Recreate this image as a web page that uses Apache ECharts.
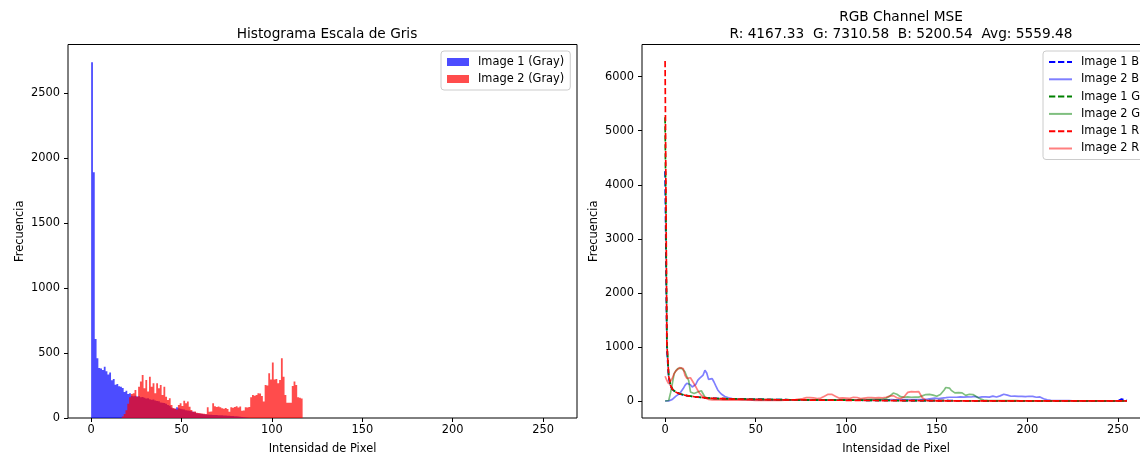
<!DOCTYPE html>
<html>
<head>
<meta charset="utf-8">
<script src="https://cdn.jsdelivr.net/npm/echarts@6/dist/echarts.min.js"></script>
<style>html,body{margin:0;padding:0;background:#fff}#c{width:1140px;height:456px}</style>
</head>
<body>
<div id="c"></div>
<script>
// ---- Left: grayscale histograms (256 bins, width 1) ----
const gray1 = [
2735,1890,608,460,385,380,370,395,360,335,350,290,300,255,262,245,
240,230,200,210,185,190,172,168,172,165,168,160,162,155,150,152,
145,140,142,135,130,128,120,118,115,110,100,95,80,72,70,82,
75,72,68,65,60,58,55,52,48,45,36,34,32,30,28,27,
26,25,25,24,24,23,22,22,21,20,19,18,17,16,15,14,
13,12,10,8,6,4,2,0,0,0,0,0,0,0,0,0,
0,0,0,0,0,0,0,0,0,0,0,0,0,0,0,0,
0,0,0,0,0,0,0,0,0,0,0,0,0,0,0,0,
0,0,0,0,0,0,0,0,0,0,0,0,0,0,0,0,
0,0,0,0,0,0,0,0,0,0,0,0,0,0,0,0,
0,0,0,0,0,0,0,0,0,0,0,0,0,0,0,0,
0,0,0,0,0,0,0,0,0,0,0,0,0,0,0,0,
0,0,0,0,0,0,0,0,0,0,0,0,0,0,0,0,
0,0,0,0,0,0,0,0,0,0,0,0,0,0,0,0,
0,0,0,0,0,0,0,0,0,0,0,0,0,0,0,0,
0,0,0,0,0,0,0,0,0,0,0,0,0,0,0,0];
const gray2 = [
0,0,0,0,0,0,0,0,0,0,0,0,0,0,0,0,
0,12,30,60,110,160,185,190,215,164,241,280,331,228,292,203,
318,241,267,190,267,228,254,177,241,164,138,151,100,76,74,66,
100,113,92,133,113,126,87,62,49,50,40,38,36,34,33,31,
82,48,50,113,90,85,88,82,75,72,76,70,49,82,78,85,
90,80,88,56,58,82,80,84,159,177,172,177,190,188,169,126,
254,250,344,297,426,297,300,267,292,459,318,177,118,118,118,246,
280,254,159,155,150,0,0,0,0,0,0,0,0,0,0,0,
0,0,0,0,0,0,0,0,0,0,0,0,0,0,0,0,
0,0,0,0,0,0,0,0,0,0,0,0,0,0,0,0,
0,0,0,0,0,0,0,0,0,0,0,0,0,0,0,0,
0,0,0,0,0,0,0,0,0,0,0,0,0,0,0,0,
0,0,0,0,0,0,0,0,0,0,0,0,0,0,0,0,
0,0,0,0,0,0,0,0,0,0,0,0,0,0,0,0,
0,0,0,0,0,0,0,0,0,0,0,0,0,0,0,0,
0,0,0,0,0,0,0,0,0,0,0,0,0,0,0,0];

// ---- Right: per-channel histograms (lines) ----
const img1B = [
4250,950,430,280,215,180,160,145,132,122,113,106,99,93,88,83,
79,75,71,68,65,62,59,57,55,53,51,49,48,46,45,44,
43,42,41,40,39,38,37,37,36,35,35,34,34,33,33,32,
32,31,31,30,30,30,29,29,28,28,28,27,27,27,26,26,
26,25,25,25,24,24,24,23,23,23,22,22,22,22,21,21,
21,20,20,20,20,19,19,19,19,18,18,18,18,17,17,17,
17,16,16,16,16,15,15,15,15,15,14,14,14,14,13,13,
13,13,13,12,12,12,12,12,11,11,11,11,11,10,10,10,
10,10,10,9,9,9,9,9,9,8,8,8,8,8,8,8,
7,7,7,7,7,7,7,6,6,6,6,6,6,6,6,5,
5,5,5,5,5,5,5,5,5,4,4,4,4,4,4,4,
4,4,4,4,4,3,3,3,3,3,3,3,3,3,3,3,
3,3,3,3,2,2,2,2,2,2,2,2,2,2,2,2,
2,2,2,2,2,2,2,2,1,1,1,1,1,1,1,1,
1,1,1,1,1,1,1,1,1,1,1,1,1,1,1,1,
1,1,1,1,1,1,1,1,1,1,2,15,35,38,20,8];
const img2B = [
0,0,2,10,30,60,90,110,136,170,230,290,330,352,300,260,
265,310,383,420,445,480,570,520,400,390,414,352,280,210,167,130,
105,85,74,60,50,43,40,38,36,35,33,32,30,30,29,28,
28,27,26,26,25,25,24,24,23,23,22,22,22,21,21,20,
20,21,22,20,19,21,22,20,19,20,21,19,18,20,21,19,
18,20,21,19,18,19,20,18,17,19,20,18,17,18,19,17,
18,19,17,16,18,19,17,16,18,17,16,18,19,17,16,18,
19,17,18,20,22,21,19,20,22,24,23,21,22,25,27,24,
22,24,26,25,23,25,28,26,24,26,28,27,25,27,30,28,
30,35,40,45,50,55,50,45,50,55,60,62,65,70,75,70,
62,70,80,75,68,72,85,78,70,74,80,86,75,65,70,78,
82,75,70,72,85,90,80,75,88,95,110,125,136,110,95,88,
80,90,100,85,78,85,95,80,75,88,92,85,78,70,82,75,
60,43,30,22,18,14,12,10,9,8,8,7,7,6,6,6,
5,5,5,5,5,5,4,4,4,4,4,4,4,4,3,3,
3,3,3,3,3,3,3,3,3,3,3,3,3,3,3,3];
const img1G = [
5250,1100,480,300,225,188,166,150,137,126,117,109,102,96,90,85,
81,77,73,70,67,64,61,58,56,54,52,50,49,47,46,45,
44,43,42,41,40,39,38,38,37,36,36,35,34,34,33,33,
32,32,31,31,30,30,30,29,29,28,28,28,27,27,27,26,
26,26,25,25,25,24,24,24,23,23,23,22,22,22,21,21,
21,21,20,20,20,20,19,19,19,19,18,18,18,17,17,17,
17,17,16,16,16,16,15,15,15,15,14,14,14,14,13,13,
13,13,13,12,12,12,12,11,11,11,11,11,10,10,10,10,
10,9,9,9,9,9,9,8,8,8,8,8,8,8,7,7,
7,7,7,7,7,6,6,6,6,6,6,6,5,5,5,5,
5,5,5,5,5,5,4,4,4,4,4,4,4,4,4,3,
3,3,3,3,3,3,3,3,3,3,3,3,2,2,2,2,
2,2,2,2,2,2,2,2,2,2,2,2,2,2,1,1,
1,1,1,1,1,1,1,1,1,1,1,1,1,1,1,1,
1,1,1,1,1,1,1,1,1,1,1,1,1,1,1,1,
1,1,1,1,1,1,1,1,1,1,1,1,1,1,2,3];
const img2G = [
0,0,10,150,320,507,560,600,618,610,600,538,450,383,167,136,
140,150,167,180,190,198,74,60,50,45,43,42,40,40,38,38,
37,36,36,35,35,34,34,33,33,32,32,31,31,30,30,30,
29,29,28,28,28,27,27,27,26,26,26,25,25,25,24,24,
24,24,23,23,23,23,22,22,22,22,22,21,21,21,21,21,
20,21,22,20,19,21,22,20,21,22,20,19,21,22,23,21,
20,22,23,21,22,24,23,22,24,25,23,24,26,25,27,28,
26,28,30,29,31,33,30,32,35,40,50,60,90,120,148,130,
124,100,80,74,70,72,75,74,70,72,74,70,72,80,95,110,
120,136,124,105,110,95,87,100,120,150,200,250,272,240,198,170,
150,148,155,167,150,120,105,110,125,136,120,87,80,60,40,25,
18,14,12,10,10,9,9,8,8,8,7,7,7,7,6,6,
6,6,6,5,5,5,5,5,5,4,4,4,4,4,4,4,
4,4,3,3,3,3,3,3,3,3,3,3,3,3,3,3,
2,2,2,2,2,2,2,2,2,2,2,2,2,2,2,2,
2,2,2,2,2,2,2,2,2,2,2,2,2,2,2,2];
const img1R = [
6290,1050,460,290,220,184,163,147,134,124,115,107,100,94,89,84,
80,76,72,69,66,63,60,57,55,53,51,49,48,46,45,44,
43,41,40,39,38,37,36,36,35,34,34,33,32,32,31,31,
30,30,29,29,28,28,27,27,26,26,26,25,25,24,24,24,
23,23,23,22,22,22,21,21,21,20,20,20,20,19,19,19,
18,18,18,18,17,17,17,17,16,16,16,16,15,15,15,15,
14,14,14,14,13,13,13,13,12,12,12,12,11,11,11,11,
10,10,10,10,10,9,9,9,9,9,8,8,8,8,8,8,
7,7,7,7,7,7,6,6,6,6,6,6,6,5,5,5,
5,5,5,5,5,4,4,4,4,4,4,4,4,4,3,3,
3,3,3,3,3,3,3,3,3,3,2,2,2,2,2,2,
2,2,2,2,2,2,2,2,2,2,2,2,2,1,1,1,
1,1,1,1,1,1,1,1,1,1,1,1,1,1,1,1,
1,1,1,1,1,1,1,1,1,1,1,1,1,1,1,1,
1,1,1,1,1,1,1,1,1,1,1,1,1,1,1,1,
1,1,1,1,1,1,1,1,1,1,1,1,1,1,1,1];
const img2R = [
458,380,320,334,420,507,560,590,618,610,600,476,420,400,430,445,
320,260,198,150,105,80,60,43,30,25,22,20,20,19,19,18,
18,18,17,17,17,16,16,16,15,15,15,15,14,14,14,14,
14,13,13,13,13,13,12,12,12,12,12,12,12,12,11,11,
11,12,14,16,15,18,20,22,25,30,35,38,45,55,62,70,
62,55,60,50,45,40,55,70,90,110,124,115,124,110,90,70,
55,50,60,65,55,45,50,60,70,74,65,50,45,50,55,60,
62,70,62,55,60,65,62,55,60,74,70,74,90,105,100,80,
60,43,45,50,80,120,160,167,175,180,170,185,175,120,60,25,
15,12,10,9,8,8,7,7,6,6,6,5,5,5,5,5,
4,4,4,4,4,4,4,4,4,4,4,4,4,4,4,4,
4,4,4,4,3,3,3,3,3,3,3,3,3,3,3,3,
3,3,3,3,2,2,2,2,2,2,2,2,2,2,2,2,
1,1,1,1,1,1,1,1,1,1,1,1,1,1,1,1,
1,1,1,1,1,1,1,1,1,1,1,1,1,1,1,1,
1,1,1,1,1,1,1,1,1,1,1,1,1,1,1,1];

const xTicks = [0, 50, 100, 150, 200, 250];
const yTicksLeft = [0, 500, 1000, 1500, 2000, 2500];
const yTicksRight = [0, 1000, 2000, 3000, 4000, 5000, 6000];
const titleLeft = 'Histograma Escala de Gris';
const titleRight1 = 'RGB Channel MSE';
const titleRight2 = 'R: 4167.33  G: 7310.58  B: 5200.54  Avg: 5559.48';
const xName = 'Intensidad de Pixel';
const yName = 'Frecuencia';

const FONT = 'DejaVu Sans';
const FS = 11.4;
const TFS = 13.7;

function histData(arr) { return arr.map((v, i) => [i, v]); }
function lineData(arr) { return arr.map((v, i) => [i, v]); }

// Histogram drawn as one stepped polygon (bin i spans [i, i+1]) through the axis scales
function histRender(fill) {
  return function (params, api) {
    if (params.dataIndexInside !== 0) return null;
    const n = params.dataInsideLength;
    const pts = [api.coord([api.value(0, 0), 0])];
    let lastX = 0;
    for (let k = 0; k < n; k++) {
      const x = api.value(0, k), v = api.value(1, k);
      pts.push(api.coord([x, v]));
      pts.push(api.coord([x + 1, v]));
      lastX = x + 1;
    }
    pts.push(api.coord([lastX, 0]));
    return {type: 'polygon', shape: {points: pts}, style: {fill: fill, opacity: 0.7}};
  };
}

const chart = echarts.init(document.getElementById('c'), null, {renderer: 'canvas'});

function xAxisCfg(gi, min, max) {
  return {
    type: 'value', gridIndex: gi, min: min, max: max,
    name: xName, nameLocation: 'middle', nameGap: 26,
    nameTextStyle: {fontFamily: FONT, fontSize: FS, color: '#000'},
    axisLine: {show: false, onZero: false},
    axisTick: {show: true, length: 4, lineStyle: {color: '#000', width: 1}, customValues: xTicks},
    axisLabel: {fontFamily: FONT, fontSize: FS, color: '#000', margin: 7, customValues: xTicks,
                formatter: v => String(v)},
    splitLine: {show: false}
  };
}
function yAxisCfg(gi, min, max, ticks) {
  return {
    type: 'value', gridIndex: gi, min: min, max: max,
    name: yName, nameLocation: 'middle', nameGap: 42,
    nameTextStyle: {fontFamily: FONT, fontSize: FS, color: '#000'},
    axisLine: {show: false, onZero: false},
    axisTick: {show: true, length: 4, lineStyle: {color: '#000', width: 1}, customValues: ticks},
    axisLabel: {fontFamily: FONT, fontSize: FS, color: '#000', margin: 8, customValues: ticks,
                formatter: v => String(v)},
    splitLine: {show: false}
  };
}

const dashed = [6.3, 2.7];
const LW = 1.7;
const option = {
  animation: false,
  backgroundColor: '#fff',
  title: [
    {text: titleLeft, left: 322, top: 22, textAlign: 'center',
     textStyle: {fontFamily: FONT, fontSize: TFS, fontWeight: 'normal', color: '#000'}},
    {text: titleRight1 + '\n' + titleRight2, left: 896, top: 4, textAlign: 'center',
     textStyle: {fontFamily: FONT, fontSize: TFS, fontWeight: 'normal', color: '#000', lineHeight: 17}}
  ],
  grid: [
    {left: 68, top: 44.5, width: 509, height: 373.5, show: true, borderColor: '#000', borderWidth: 1,
     backgroundColor: 'transparent', outerBoundsMode: 'none', containLabel: false},
    {left: 642, top: 44.5, width: 508, height: 373.5, show: true, borderColor: '#000', borderWidth: 1,
     backgroundColor: 'transparent', outerBoundsMode: 'none', containLabel: false}
  ],
  xAxis: [xAxisCfg(0, -12.8, 268.8), xAxisCfg(1, -12.75, 267.75)],
  yAxis: [yAxisCfg(0, 0, 2872, yTicksLeft), yAxisCfg(1, -314, 6594, yTicksRight)],
  legend: [
    {
      data: [
        {name: 'Image 1 (Gray)', icon: 'rect', itemStyle: {color: 'rgba(0,0,255,0.7)', borderWidth: 0}},
        {name: 'Image 2 (Gray)', icon: 'rect', itemStyle: {color: 'rgba(255,0,0,0.7)', borderWidth: 0}}
      ],
      orient: 'vertical', left: 441, top: 51, itemWidth: 22, itemHeight: 8, itemGap: 5,
      padding: [5, 6, 5, 6], backgroundColor: 'rgba(255,255,255,0.8)', borderColor: '#cccccc',
      borderWidth: 1, borderRadius: 3, selectedMode: false,
      textStyle: {fontFamily: FONT, fontSize: FS, color: '#000', lineHeight: 12, padding: [0, 0, 0, 4]}
    },
    {
      data: ['Image 1 B', 'Image 2 B', 'Image 1 G', 'Image 2 G', 'Image 1 R', 'Image 2 R'],
      orient: 'vertical', left: 1043, top: 51, itemWidth: 23, itemHeight: 12, itemGap: 5.3,
      padding: [5, 6, 5, 5], backgroundColor: 'rgba(255,255,255,0.8)', borderColor: '#cccccc',
      borderWidth: 1, borderRadius: 3, selectedMode: false,
      itemStyle: {opacity: 0},
      textStyle: {fontFamily: FONT, fontSize: FS, color: '#000', lineHeight: 12, padding: [0, 0, 0, 4]}
    }
  ],
  series: [
    {name: 'Image 1 (Gray)', type: 'custom', xAxisIndex: 0, yAxisIndex: 0,
     data: histData(gray1), renderItem: histRender('#0000ff'),
     itemStyle: {color: 'rgba(0,0,255,0.7)'}, encode: {x: 0, y: 1}, silent: true},
    {name: 'Image 2 (Gray)', type: 'custom', xAxisIndex: 0, yAxisIndex: 0,
     data: histData(gray2), renderItem: histRender('#ff0000'),
     itemStyle: {color: 'rgba(255,0,0,0.7)'}, encode: {x: 0, y: 1}, silent: true},

    {name: 'Image 1 B', type: 'line', xAxisIndex: 1, yAxisIndex: 1, data: lineData(img1B), symbol: 'none',
     color: '#0000ff', lineStyle: {width: LW, type: dashed, color: '#0000ff'}, silent: true},
    {name: 'Image 2 B', type: 'line', xAxisIndex: 1, yAxisIndex: 1, data: lineData(img2B), symbol: 'none',
     color: '#0000ff', lineStyle: {width: LW, color: '#0000ff', opacity: 0.5}, silent: true},
    {name: 'Image 1 G', type: 'line', xAxisIndex: 1, yAxisIndex: 1, data: lineData(img1G), symbol: 'none',
     color: '#008000', lineStyle: {width: LW, type: dashed, color: '#008000'}, silent: true},
    {name: 'Image 2 G', type: 'line', xAxisIndex: 1, yAxisIndex: 1, data: lineData(img2G), symbol: 'none',
     color: '#008000', lineStyle: {width: LW, color: '#008000', opacity: 0.5}, silent: true},
    {name: 'Image 1 R', type: 'line', xAxisIndex: 1, yAxisIndex: 1, data: lineData(img1R), symbol: 'none',
     color: '#ff0000', lineStyle: {width: LW, type: dashed, color: '#ff0000'}, silent: true},
    {name: 'Image 2 R', type: 'line', xAxisIndex: 1, yAxisIndex: 1, data: lineData(img2R), symbol: 'none',
     color: '#ff0000', lineStyle: {width: LW, color: '#ff0000', opacity: 0.5}, silent: true}
  ]
};
chart.setOption(option);
</script>
</body>
</html>
